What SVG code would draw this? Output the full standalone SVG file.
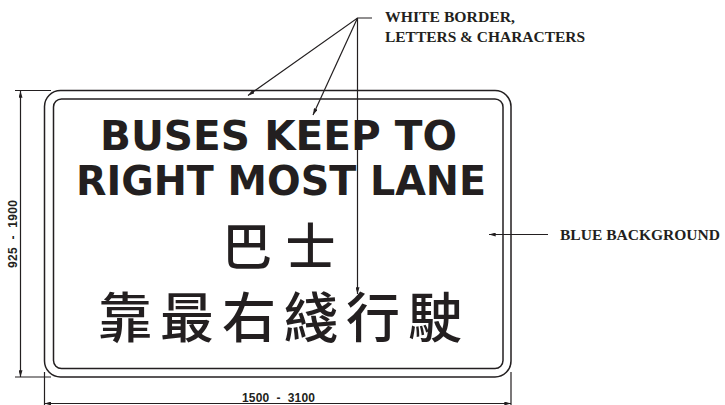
<svg xmlns="http://www.w3.org/2000/svg" width="725" height="405" viewBox="0 0 725 405">
<defs>
<style>
.ln{stroke:#231f20;stroke-width:1.2;fill:none}
.bd{stroke:#231f20;stroke-width:1.5;fill:none}
.sign{font-family:"DejaVu Sans",sans-serif;font-weight:bold;font-size:41px;fill:#231f20}
.cjk{font-family:"Noto Sans CJK TC","Noto Sans CJK SC",sans-serif;font-weight:500;fill:#231f20;text-anchor:middle}
.note{font-family:"Liberation Serif",serif;font-weight:bold;font-size:14px;fill:#231f20}
.dim{font-family:"Liberation Sans",sans-serif;font-weight:bold;font-size:12px;fill:#231f20;white-space:pre}
</style>
<marker id="ah" viewBox="0 0 10 6" refX="10" refY="3" markerWidth="7" markerHeight="4" markerUnits="userSpaceOnUse" orient="auto-start-reverse">
<path d="M0,0 L10,3 L0,6 Z" fill="#231f20"/>
</marker>
</defs>
<rect width="725" height="405" fill="#fff"/>
<g id="sign">
<rect class="bd" x="44.5" y="90.5" width="466.5" height="286.5" rx="16" ry="16"/>
<rect class="bd" x="53.5" y="99" width="449.5" height="269.5" rx="8" ry="8"/>
<text class="sign" x="100" y="150" textLength="357" lengthAdjust="spacingAndGlyphs">BUSES KEEP TO</text>
<text class="sign" x="76" y="195" textLength="410" lengthAdjust="spacingAndGlyphs">RIGHT MOST LANE</text>
<text class="cjk" font-size="50" x="247 310.5" y="265">巴士</text>
<text class="cjk" font-size="54" x="125 187 249 311 373 435" y="338">靠最右綫行駛</text>
</g>
<g id="connectors">
<path class="ln" d="M372,18 H357.5 L248,95.5" marker-end="url(#ah)"/>
<path class="ln" d="M357.5,18 L313,115" marker-end="url(#ah)"/>
<path class="ln" d="M357.5,18 V294" marker-end="url(#ah)"/>
<path class="ln" d="M548,234.5 H489" marker-end="url(#ah)"/>
<path class="ln" d="M15,90.5 H51 M15,377 H51 M44.5,372 V405 M511,372 V405"/>
<path class="ln" d="M20.5,91 V377" marker-start="url(#ah)" marker-end="url(#ah)"/>
<path class="ln" d="M44.5,403.5 H511" marker-start="url(#ah)" marker-end="url(#ah)"/>
</g>
<g id="labels">
<text class="note" x="385" y="21.5" textLength="130" lengthAdjust="spacingAndGlyphs">WHITE BORDER,</text>
<text class="note" x="385" y="41.5" textLength="200" lengthAdjust="spacingAndGlyphs">LETTERS &amp; CHARACTERS</text>
<text class="note" x="560" y="239.5" textLength="160" lengthAdjust="spacingAndGlyphs">BLUE BACKGROUND</text>
<text class="dim" x="242" y="401.5" textLength="73" lengthAdjust="spacing" xml:space="preserve">1500  -  3100</text>
<text class="dim" transform="translate(17,268) rotate(-90)" textLength="68" lengthAdjust="spacing" xml:space="preserve">925  -  1900</text>
</g>
</svg>
